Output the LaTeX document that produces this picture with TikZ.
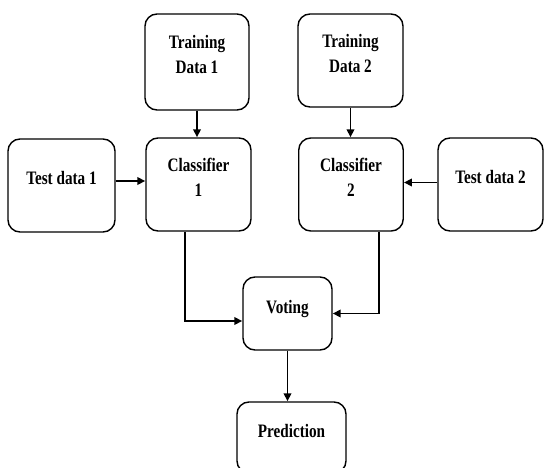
\documentclass[tikz,border=0pt]{standalone}
\usepackage{fontspec}
\setmainfont{Liberation Serif}[FakeStretch=0.8]
\usetikzlibrary{arrows.meta,calc}
\newcommand{\boxtext}[1]{\raisebox{5.5pt}[\height][\depth]{\begin{tabular}{@{}c@{}}#1\end{tabular}}}
\tikzset{
  blk/.style={draw, line width=1.4pt, rounded corners=12pt, inner sep=0pt,
    font=\fontsize{19}{25}\selectfont\bfseries},
  arr/.style={line width=1.8pt, -{Triangle[length=8pt,width=7.5pt]}}
}
\begin{document}
\begin{tikzpicture}[x=1pt,y=1pt]
\useasboundingbox (0,0) rectangle (544,-468);
\node[blk, minimum width=104pt, minimum height=96pt] (td1) at (197,-62) {\boxtext{Training\\Data 1}};
\node[blk, minimum width=105pt, minimum height=93pt] (td2) at (350.5,-60.5) {\boxtext{Training\\Data 2}};
\node[blk, minimum width=107pt, minimum height=93pt] (te1) at (61.5,-185.5) {\boxtext{Test data 1}};
\node[blk, minimum width=105pt, minimum height=93pt] (c1) at (198.5,-184.5) {\boxtext{Classifier\\1}};
\node[blk, minimum width=104.5pt, minimum height=93pt] (c2) at (351,-184.5) {\boxtext{Classifier\\2}};
\node[blk, minimum width=105pt, minimum height=93pt] (te2) at (490.5,-184.5) {\boxtext{Test data 2}};
\node[blk, minimum width=89pt, minimum height=73pt] (vote) at (287.5,-313.5) {\boxtext{Voting}};
\node[blk, minimum width=109pt, minimum height=71pt] (pred) at (291.5,-437.5) {\boxtext{Prediction}};
\draw[arr] (td1.south) -- (td1.south |- c1.north);
\draw[arr] (td2.south) -- (td2.south |- c2.north);
\draw[arr] ([yshift=4.5pt]te1.east) -- ([yshift=4.5pt]te1.east -| c1.west);
\draw[arr] ([yshift=2pt]te2.west) -- ([yshift=2pt]te2.west -| c2.east);
\draw[arr] ([xshift=40pt]c1.south west) |- ([yshift=-7.5pt]vote.west);
\draw[arr] ([xshift=-25pt]c2.south east) |- (vote.east);
\draw[arr] (vote.south) -- (vote.south |- pred.north);
\end{tikzpicture}
\end{document}
